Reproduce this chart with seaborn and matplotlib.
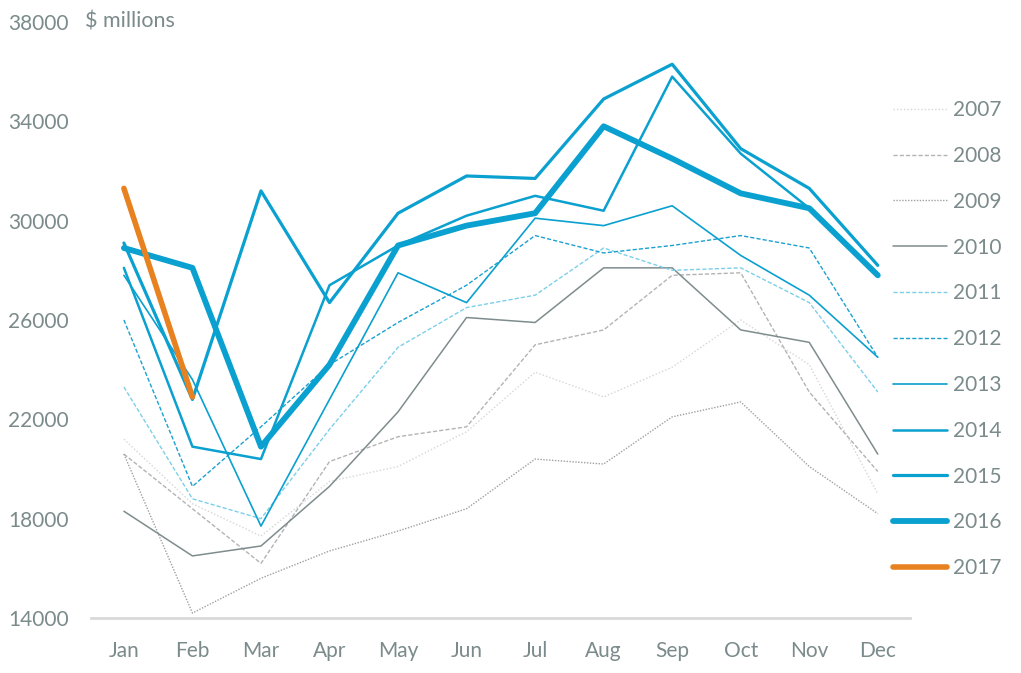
import numpy as np
import pandas as pd
import seaborn as sns
import matplotlib.pyplot as plt

months = ["Jan", "Feb", "Mar", "Apr", "May", "Jun", "Jul", "Aug", "Sep", "Oct", "Nov", "Dec"]

y2007 = [21200, 18600, 17300, 19500, 20100, 21500, 23900, 22900, 24100, 26000, 24200, 19000]
y2008 = [20600, 18400, 16200, 20300, 21300, 21700, 25000, 25600, 27800, 27900, 23100, 19900]
y2009 = [20600, 14200, 15600, 16700, 17500, 18400, 20400, 20200, 22100, 22700, 20100, 18200]
y2010 = [18300, 16500, 16900, 19300, 22300, 26100, 25900, 28100, 28100, 25600, 25100, 20600]
y2011 = [23300, 18800, 18000, 21600, 24900, 26500, 27000, 28900, 28000, 28100, 26700, 23100]
y2012 = [26000, 19300, 21700, 24200, 25900, 27400, 29400, 28700, 29000, 29400, 28900, 24500]
y2013 = [27800, 23600, 17700, 22800, 27900, 26700, 30100, 29800, 30600, 28600, 27000, 24500]
y2014 = [28100, 20900, 20400, 27400, 29000, 30200, 31000, 30400, 35800, 32700, 30500, 27800]
y2015 = [29100, 22800, 31200, 26700, 30300, 31800, 31700, 34900, 36300, 32900, 31300, 28200]
y2016 = [28900, 28100, 20900, 24200, 29000, 29800, 30300, 33800, 32500, 31100, 30500, 27800]
y2017 = [31300, 22900]

series = {"2007": y2007, "2008": y2008, "2009": y2009, "2010": y2010, "2011": y2011,
          "2012": y2012, "2013": y2013, "2014": y2014, "2015": y2015, "2016": y2016,
          "2017": y2017}
years = list(series.keys())

rows = []
for yr, vals in series.items():
    for i, v in enumerate(vals):
        rows.append({"year": yr, "month": i, "value": v})
df = pd.DataFrame(rows)

blue = "#0aa0cf"
palette = {"2007": "#d6d6d6", "2008": "#b3b3b3", "2009": "#a0a0a0", "2010": "#7f8c8d",
           "2011": "#7ccfe8", "2012": "#1aa1d0", "2013": blue, "2014": blue,
           "2015": blue, "2016": blue, "2017": "#e8811f"}
sizes = {"2007": 1.0, "2008": 1.0, "2009": 1.0, "2010": 1.1, "2011": 1.0, "2012": 1.0,
         "2013": 1.2, "2014": 1.8, "2015": 2.3, "2016": 4.2, "2017": 4.0}
dashes = {"2007": (1, 1.5), "2008": (3, 1.5), "2009": (1, 1.1), "2010": "",
          "2011": (3, 1.5), "2012": (3, 1.5), "2013": "", "2014": "", "2015": "",
          "2016": "", "2017": ""}

sns.set_theme(style="white")
plt.rcParams["font.family"] = ["Lato", "DejaVu Sans"]
grey = "#7b8a8b"
fs = 15

fig = plt.figure(figsize=(10.21, 6.73), dpi=100)
ax = fig.add_axes([91 / 1021, 55 / 673, 819 / 1021, 596 / 673])

sns.lineplot(data=df, x="month", y="value", hue="year", size="year", style="year",
             hue_order=years, size_order=years, style_order=years,
             palette=palette, sizes=sizes, dashes=dashes, ax=ax,
             solid_capstyle="round", dash_capstyle="butt")

ax.set_xlim(-0.48, 11.47)
ax.set_ylim(14000, 38000)
ax.set_xticks(range(12))
ax.set_xticklabels(months)
ax.set_yticks(range(14000, 38001, 4000))
ax.set_xlabel("")
ax.set_ylabel("")
ax.tick_params(axis="both", length=0, labelsize=fs, colors=grey)
ax.tick_params(axis="y", pad=16)
ax.tick_params(axis="x", pad=16.5)
for side in ["top", "right", "left"]:
    ax.spines[side].set_visible(False)
ax.spines["bottom"].set_color("#d9d9d9")
ax.spines["bottom"].set_linewidth(2)

fig.text(85 / 1021, 1 - 22 / 673, "$ millions", fontsize=fs + 0.5, color=grey, va="center")

sns.move_legend(ax, "upper left", bbox_to_anchor=(893 / 1021, 1 - 100 / 673),
                bbox_transform=fig.transFigure, frameon=False, title=None,
                fontsize=fs, labelcolor=grey, handlelength=2.6, handletextpad=0.3,
                labelspacing=1.24, borderpad=0, borderaxespad=0)

fig.savefig("out.png", dpi=100)
